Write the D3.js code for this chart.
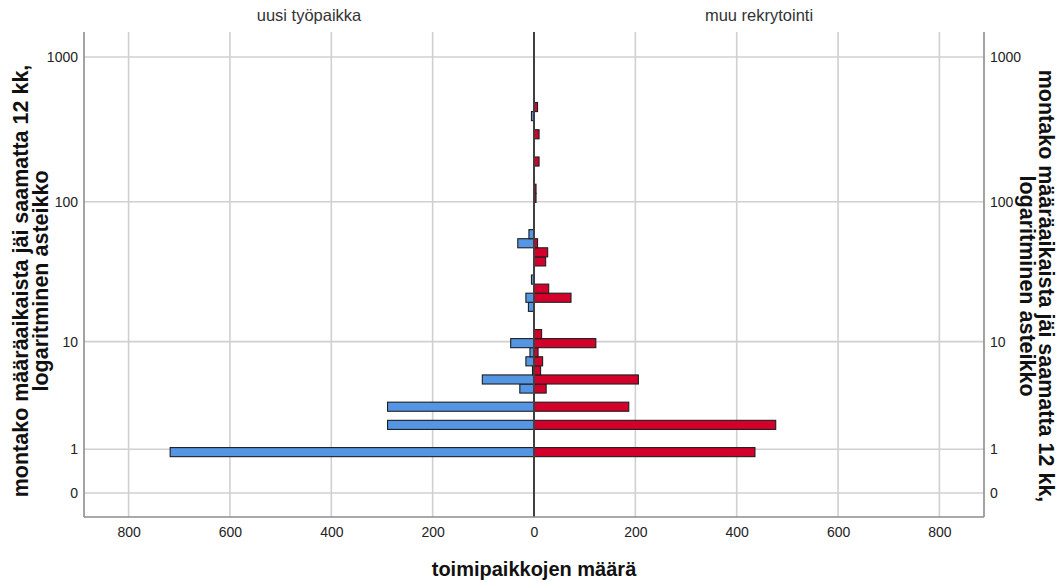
<!DOCTYPE html>
<html>
<head>
<meta charset="utf-8">
<script src="https://cdn.jsdelivr.net/npm/d3@7"></script>
<style>
  html, body { margin: 0; padding: 0; background: #fff; }
  svg { display: block; font-family: "Liberation Sans", Arial, sans-serif; }
</style>
</head>
<body>
<svg id="chart" width="1058" height="583"></svg>
<script>
// Histogram bins on a log10(n + 1) axis, 16 bins per decade.
const binsPerDecade = 16;
const binIndex = [4, 7, 9, 11, 12, 13, 14, 15, 16, 17, 20, 21, 22, 23, 25, 26, 27, 28, 32, 33, 36, 39, 41, 42];
// Number of workplaces per bin, by recruitment type
const uusiTyopaikka  = [718, 289, 289, 28, 102, 3, 16, 8, 46, 0, 11, 16, 0, 5, 0, 0, 32, 10, 0, 0, 0, 0, 5, 0];
const muuRekrytointi = [436, 477, 187, 24, 206, 13, 17, 8, 122, 15, 0, 73, 29, 0, 23, 27, 7, 0, 4, 4, 10, 10, 0, 7];
const groupLabels = ["uusi työpaikka", "muu rekrytointi"];
const yTickValues = [0, 1, 10, 100, 1000];
const xTickValues = [-800, -600, -400, -200, 0, 200, 400, 600, 800];
const xTitle = "toimipaikkojen määrä";
const yTitleLines = ["montako määräaikaista jäi saamatta 12 kk,", "logaritminen asteikko"];

const svg = d3.select("#chart");
const plot = { left: 84, right: 984, top: 32, bottom: 517 };

const x = d3.scaleLinear().domain([-888, 888]).range([plot.left, plot.right]);
const y = d3.scaleSymlog().constant(1).domain([-0.463, 1487]).range([plot.bottom, plot.top]);

const gridColor = "#d0d0d0";
const axisColor = "#8c8c8c";

// grid
const grid = svg.append("g");
grid.selectAll("line.v").data(xTickValues.filter(d => d !== 0)).join("line")
  .attr("x1", d => x(d)).attr("x2", d => x(d))
  .attr("y1", plot.top).attr("y2", plot.bottom)
  .attr("stroke", gridColor).attr("stroke-width", 1.6);
grid.selectAll("line.h").data(yTickValues).join("line")
  .attr("x1", plot.left).attr("x2", plot.right)
  .attr("y1", d => y(d)).attr("y2", d => y(d))
  .attr("stroke", gridColor).attr("stroke-width", 1.6);

// bars
const bins = binIndex.map((k, i) => ({
  lo: Math.pow(10, k / binsPerDecade) - 1,
  hi: Math.pow(10, (k + 1) / binsPerDecade) - 1,
  left: uusiTyopaikka[i],
  right: muuRekrytointi[i]
}));

const bars = svg.append("g").attr("stroke", "#1e1e1e").attr("stroke-width", 1.1);
bars.selectAll("rect.left").data(bins.filter(b => b.left > 0)).join("rect")
  .attr("x", b => x(-b.left)).attr("width", b => x(0) - x(-b.left))
  .attr("y", b => y(b.hi)).attr("height", b => y(b.lo) - y(b.hi))
  .attr("fill", "#5596e4");
bars.selectAll("rect.right").data(bins.filter(b => b.right > 0)).join("rect")
  .attr("x", x(0)).attr("width", b => x(b.right) - x(0))
  .attr("y", b => y(b.hi)).attr("height", b => y(b.lo) - y(b.hi))
  .attr("fill", "#d3002c");

// zero line
svg.append("line")
  .attr("x1", x(0)).attr("x2", x(0)).attr("y1", plot.top).attr("y2", plot.bottom)
  .attr("stroke", "#404040").attr("stroke-width", 2);

// frame lines
const frame = svg.append("g").attr("stroke", axisColor).attr("stroke-width", 1.6);
frame.append("line").attr("x1", plot.left).attr("x2", plot.left).attr("y1", plot.top).attr("y2", plot.bottom);
frame.append("line").attr("x1", plot.right).attr("x2", plot.right).attr("y1", plot.top).attr("y2", plot.bottom);
frame.append("line").attr("x1", plot.left).attr("x2", plot.right).attr("y1", plot.bottom).attr("y2", plot.bottom);

// axes
const styleAxis = g => {
  g.select(".domain").remove();
  g.selectAll("line").remove();
  g.selectAll("text").attr("fill", "#222").style("font-size", "14px")
    .style("font-family", '"Liberation Sans", Arial, sans-serif');
};
svg.append("g").attr("transform", `translate(0,${plot.bottom})`)
  .call(d3.axisBottom(x).tickValues(xTickValues).tickFormat(d => Math.abs(d)).tickSize(0).tickPadding(10))
  .call(styleAxis);
svg.append("g").attr("transform", `translate(${plot.left},0)`)
  .call(d3.axisLeft(y).tickValues(yTickValues).tickFormat(d3.format("d")).tickSize(0).tickPadding(6))
  .call(styleAxis);
svg.append("g").attr("transform", `translate(${plot.right},0)`)
  .call(d3.axisRight(y).tickValues(yTickValues).tickFormat(d3.format("d")).tickSize(0).tickPadding(6))
  .call(styleAxis);

// panel headers
const mid = x(0);
svg.selectAll("text.header").data(groupLabels).join("text")
  .attr("x", (d, i) => i === 0 ? (plot.left + mid) / 2 : (mid + plot.right) / 2)
  .attr("y", 21)
  .attr("text-anchor", "middle")
  .attr("fill", "#333").style("font-size", "16.5px")
  .text(d => d);

// x title
svg.append("text")
  .attr("x", mid).attr("y", 576)
  .attr("text-anchor", "middle")
  .attr("fill", "#111").style("font-size", "20px").style("font-weight", "bold")
  .text(xTitle);

// y titles, left and right
const leftTitle = svg.append("text")
  .attr("transform", "translate(28,281) rotate(-90)")
  .attr("text-anchor", "middle")
  .attr("fill", "#111").style("font-size", "21.5px").style("font-weight", "bold");
yTitleLines.forEach((t, i) => leftTitle.append("tspan").attr("x", 0).attr("dy", i === 0 ? 0 : 19.5).text(t));

const rightTitle = svg.append("text")
  .attr("transform", "translate(1039,286) rotate(90)")
  .attr("text-anchor", "middle")
  .attr("fill", "#111").style("font-size", "21.5px").style("font-weight", "bold");
yTitleLines.forEach((t, i) => rightTitle.append("tspan").attr("x", 0).attr("dy", i === 0 ? 0 : 19.5).text(t));
</script>
</body>
</html>
